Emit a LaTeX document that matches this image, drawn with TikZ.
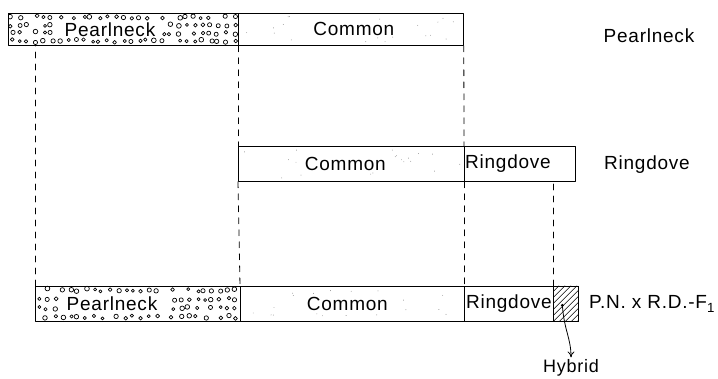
\documentclass[tikz,border=0pt]{standalone}
\usepackage{fontspec}
\setmainfont{Liberation Sans}[LetterSpace=4]
\usetikzlibrary{calc,arrows.meta}

\begin{document}
\begin{tikzpicture}[x=1pt, y=-1pt, >={To[length=6pt,width=7pt]}, line cap=round, line join=round,
  font=\fontsize{19}{21}\selectfont,
  seg/.style={draw, line width=0.8pt, inner sep=0pt, anchor=north west, minimum height=35pt},
  guide/.style={line width=0.8pt, dash pattern=on 6pt off 6pt}]

  \useasboundingbox (0,0) rectangle (718,379);

  % ===== パラメータ =====
  \def\rowA{13}    % Pearlneck の行
  \def\rowB{146}   % Ringdove の行
  \def\rowC{286}   % 雑種の行
  \pgfmathsetseed{23}

  % ===== 帯（上段）=====
  \node[seg, minimum width=230pt, minimum height=32pt] (pnTop) at (8,\rowA) {};
  \node[seg, minimum width=225pt, minimum height=32pt] (cmTop) at (238,\rowA) {};

  % ===== 帯（中段）=====
  \node[seg, minimum width=226pt] (cmMid) at (238,\rowB) {};
  \node[seg, minimum width=111pt] (rdMid) at (464,\rowB) {};

  % ===== 帯（下段）=====
  \node[seg, minimum width=205pt] (pnBot) at (35,\rowC) {};
  \node[seg, minimum width=224pt] (cmBot) at (240,\rowC) {};
  \node[seg, minimum width=89pt]  (rdBot) at (464,\rowC) {};
  \node[seg, minimum width=25pt]  (hyBot) at (553,\rowC) {};

  % ---- Pearlneck の粒模様（ゆらぎ付きの格子）----
  \foreach \bx/\by/\bw/\bh/\tx/\nc in {8/13/230/32/50/28, 35/286/205/35/25/25}{
    \begin{scope}
      \clip (\bx,\by) rectangle ++(\bw,\bh);
      \foreach \cx in {0,...,\nc}{
        \foreach \cy in {0,...,3}{
          \pgfmathsetmacro\px{\bx+4+(\bw-8)*\cx/\nc+4*(rnd-0.5)}
          \pgfmathsetmacro\py{\by+4+(\bh-8)*\cy/3+3*(rnd-0.5)}
          \pgfmathsetmacro\pr{1.5+0.9*rnd}
          \pgfmathtruncatemacro\hole{((\px>\bx+\tx)&&(\px<\bx+\tx+104)&&(\py>\by+8)&&(\py<\by+\bh-8))||(rnd<0.12)}
          \ifnum\hole=0 \draw[line width=0.7pt] (\px,\py) circle (\pr pt);\fi
        }
      }
    \end{scope}
  }

  % ---- Common の細かい点 ----
  \foreach \bx/\by/\bw/\bh in {238/13/225/32, 238/146/226/35, 240/286/224/35}{
    \foreach \i in {1,...,30}{
      \pgfmathsetmacro\px{\bx+4+(\bw-8)*rnd}
      \pgfmathsetmacro\py{\by+3+(\bh-6)*rnd}
      \pgfmathtruncatemacro\hole{(\px>\bx+\bw/2-50)&&(\px<\bx+\bw/2+44)&&(\py>\by+8)&&(\py<\by+\bh-8)}
      \ifnum\hole=0 \fill[black!45] (\px,\py) circle (0.45pt);\fi
    }
  }

  % ---- 雑種の斜線 ----
  \begin{scope}
    \clip (hyBot.north west) rectangle (hyBot.south east);
    \foreach \k in {-36,-30,...,30}
      \draw[line width=0.6pt] ($(hyBot.south west)+(\k,0)$) -- ++(36,-36);
  \end{scope}
  \draw[line width=0.8pt] (hyBot.north west) rectangle (hyBot.south east);

  % ===== 帯の文字 =====
  \node (pnTopTxt) at ($(pnTop.west)+(102,0)$) {Pearlneck};
  \node (cmTopTxt) at ($(cmTop.center)+(3,0)$) {Common};
  \node (cmMidTxt) at ($(cmMid.center)+(-6,0)$) {Common};
  \node (rdMidTxt) at ($(rdMid.west)+(44,0)$) {Ringdove};
  \node (pnBotTxt) at ($(pnBot.west)+(77,0)$) {Pearlneck};
  \node (cmBotTxt) at ($(cmBot.center)+(-5,0)$) {Common};
  \node[inner sep=0pt] (rdBotTxt) at (rdBot.center) {Ringdove};

  % ===== 右側の見出し =====
  \node (pnName) at (649,36) {Pearlneck};
  \node (rdName) at (647,165) {Ringdove};
  \node (hyName) at (652,304) {P.N. x R.D.-F\textsubscript{1}};

  % ===== 補助線 =====
  \draw[guide] (pnBot.north west) -- (pnBot.north west |- pnTop.south);
  \draw[guide] (cmTop.south west) -- (cmMid.north west);
  \draw[guide] (cmMid.south west) -- (cmBot.north west);
  \draw[guide] (cmTop.south east) -- (rdMid.north west);
  \draw[guide] (rdMid.south west) -- (rdBot.north west);
  \draw[guide] (hyBot.north west) -- (hyBot.north west |- rdMid.south);

  % ---- 雑種の矢印 ----
  \coordinate (hyDot) at ($(hyBot.center)+(-3.5,1.5)$);
  \fill (hyDot) circle (1.6pt);
  \node[font=\fontsize{18}{20}\selectfont, inner sep=2pt] (hyLab) at (571,368) {Hybrid};
  \draw[->, line width=0.8pt] (hyDot) .. controls (564,330) and (571,338) .. (hyLab.north);

\end{tikzpicture}
\end{document}
